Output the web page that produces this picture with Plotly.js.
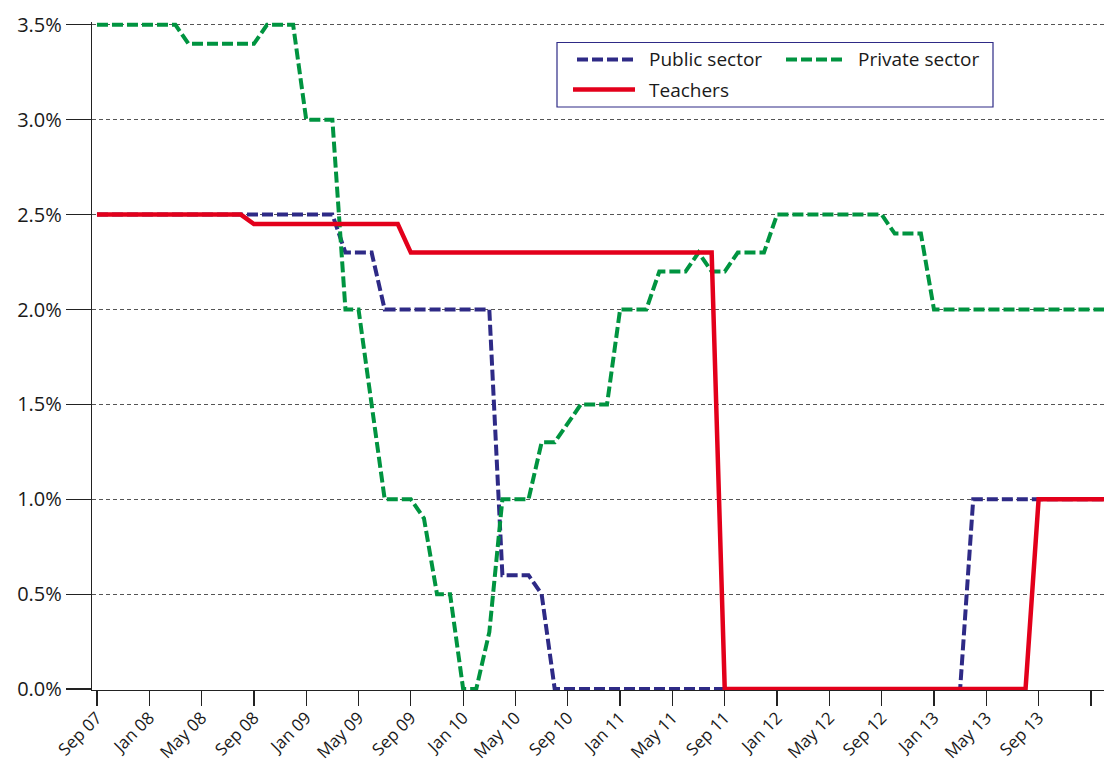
<!DOCTYPE html>
<html>
<head>
<meta charset="utf-8">
<script src="https://cdn.plot.ly/plotly-3.0.1.min.js"></script>
<style>
  html, body { margin: 0; padding: 0; background: #ffffff; }
  #chart { width: 1104px; height: 764px; }
</style>
</head>
<body>
<div id="chart"></div>
<script>
// Months (categories), Sep 2007 to Feb 2014
const months = [
  'Sep 07','Oct 07','Nov 07','Dec 07',
  'Jan 08','Feb 08','Mar 08','Apr 08','May 08','Jun 08','Jul 08','Aug 08','Sep 08','Oct 08','Nov 08','Dec 08',
  'Jan 09','Feb 09','Mar 09','Apr 09','May 09','Jun 09','Jul 09','Aug 09','Sep 09','Oct 09','Nov 09','Dec 09',
  'Jan 10','Feb 10','Mar 10','Apr 10','May 10','Jun 10','Jul 10','Aug 10','Sep 10','Oct 10','Nov 10','Dec 10',
  'Jan 11','Feb 11','Mar 11','Apr 11','May 11','Jun 11','Jul 11','Aug 11','Sep 11','Oct 11','Nov 11','Dec 11',
  'Jan 12','Feb 12','Mar 12','Apr 12','May 12','Jun 12','Jul 12','Aug 12','Sep 12','Oct 12','Nov 12','Dec 12',
  'Jan 13','Feb 13','Mar 13','Apr 13','May 13','Jun 13','Jul 13','Aug 13','Sep 13','Oct 13','Nov 13','Dec 13',
  'Jan 14','Feb 14'
];

// Pay growth, %
const publicSector = [
  2.5,2.5,2.5,2.5,2.5,2.5,2.5,2.5,2.5,2.5,2.5,2.5,2.5,2.5,2.5,2.5,2.5,2.5,2.5,
  2.3,2.3,2.3,
  2.0,2.0,2.0,2.0,2.0,2.0,2.0,2.0,2.0,
  0.6,0.6,0.6,
  0.5,
  0,0,0,0,0,0,0,0,0,0,0,0,0,0,0,0,0,0,0,0,0,0,0,0,0,0,0,0,0,0,0,0,
  1.0,1.0,1.0,1.0,1.0,1.0,1.0,1.0,1.0,1.0,1.0
];
const privateSector = [
  3.5,3.5,3.5,3.5,3.5,3.5,3.5,
  3.4,3.4,3.4,3.4,3.4,3.4,
  3.5,3.5,3.5,
  3.0,3.0,3.0,
  2.0,2.0,
  1.5,
  1.0,1.0,1.0,
  0.9,
  0.5,0.5,
  0.0,0.0,
  0.3,
  1.0,1.0,1.0,
  1.3,1.3,
  1.4,
  1.5,1.5,1.5,
  2.0,2.0,2.0,
  2.2,2.2,2.2,
  2.3,
  2.2,2.2,
  2.3,2.3,2.3,
  2.5,2.5,2.5,2.5,2.5,2.5,2.5,2.5,2.5,
  2.4,2.4,2.4,
  2.0,2.0,2.0,2.0,2.0,2.0,2.0,2.0,2.0,2.0,2.0,2.0,2.0,2.0
];
const teachers = [
  2.5,2.5,2.5,2.5,2.5,2.5,2.5,2.5,2.5,2.5,2.5,2.5,
  2.45,2.45,2.45,2.45,2.45,2.45,2.45,2.45,2.45,2.45,2.45,2.45,
  2.3,2.3,2.3,2.3,2.3,2.3,2.3,2.3,2.3,2.3,2.3,2.3,2.3,2.3,2.3,2.3,2.3,2.3,2.3,2.3,2.3,2.3,2.3,2.3,
  0,0,0,0,0,0,0,0,0,0,0,0,0,0,0,0,0,0,0,0,0,0,0,0,
  1.0,1.0,1.0,1.0,1.0,1.0
];

const seriesNames = ['Public sector', 'Private sector', 'Teachers'];

const xTickVals = ['Sep 07','Jan 08','May 08','Sep 08','Jan 09','May 09','Sep 09','Jan 10','May 10',
  'Sep 10','Jan 11','May 11','Sep 11','Jan 12','May 12','Sep 12','Jan 13','May 13','Sep 13','Jan 14'];
const xTickText = ['Sep 07','Jan 08','May 08','Sep 08','Jan 09','May 09','Sep 09','Jan 10','May 10',
  'Sep 10','Jan 11','May 11','Sep 11','Jan 12','May 12','Sep 12','Jan 13','May 13','Sep 13',''];
const yTickVals = [0, 0.5, 1.0, 1.5, 2.0, 2.5, 3.0, 3.5];
const yTickText = ['0.0%','0.5%','1.0%','1.5%','2.0%','2.5%','3.0%','3.5%'];

// styles
const NAVY = '#2e2a86';
const GREEN = '#009440';
const RED = '#e3001b';
const INK = '#1a1a1a';

const traces = [
  { x: months, y: publicSector, name: seriesNames[0], type: 'scatter', mode: 'lines',
    line: { color: NAVY, width: 4, dash: '11px,4px' }, hoverinfo: 'x+y+name' },
  { x: months, y: privateSector, name: seriesNames[1], type: 'scatter', mode: 'lines',
    line: { color: GREEN, width: 4, dash: '11px,4px' }, hoverinfo: 'x+y+name' },
  { x: months, y: teachers, name: seriesNames[2], type: 'scatter', mode: 'lines',
    line: { color: RED, width: 4.5 }, hoverinfo: 'x+y+name' }
];

// plot area geometry (pixels)
const L = 92, R = 0, T = 22, B = 74, W = 1104, H = 764;
const PW = W - L - R, PH = H - T - B;
const px = v => (v - L) / PW;
const py = v => (T + PH - v) / PH;

// custom legend (box + symbols + labels)
const shapes = [
  { type: 'rect', xref: 'paper', yref: 'paper', x0: px(557), x1: px(993), y0: py(42.5), y1: py(107),
    line: { color: NAVY, width: 1.2 }, fillcolor: '#ffffff', layer: 'above' },
  { type: 'line', xref: 'paper', yref: 'paper', x0: px(577), x1: px(635), y0: py(59.5), y1: py(59.5),
    line: { color: NAVY, width: 4, dash: '11px,4px' }, layer: 'above' },
  { type: 'line', xref: 'paper', yref: 'paper', x0: px(786), x1: px(845), y0: py(59.5), y1: py(59.5),
    line: { color: GREEN, width: 4, dash: '11px,4px' }, layer: 'above' },
  { type: 'line', xref: 'paper', yref: 'paper', x0: px(573), x1: px(635), y0: py(89.5), y1: py(89.5),
    line: { color: RED, width: 4.5 }, layer: 'above' }
];
const annotations = [
  { xref: 'paper', yref: 'paper', x: px(647), y: py(59.5), text: seriesNames[0], showarrow: false,
    xanchor: 'left', yanchor: 'middle', font: { size: 19, color: INK } },
  { xref: 'paper', yref: 'paper', x: px(856), y: py(59.5), text: seriesNames[1], showarrow: false,
    xanchor: 'left', yanchor: 'middle', font: { size: 19, color: INK } },
  { xref: 'paper', yref: 'paper', x: px(647), y: py(89.5), text: seriesNames[2], showarrow: false,
    xanchor: 'left', yanchor: 'middle', font: { size: 19, color: INK } }
];

const layout = {
  width: W, height: H,
  margin: { l: L, r: R, t: T, b: B, pad: 0 },
  paper_bgcolor: '#ffffff', plot_bgcolor: '#ffffff',
  font: { family: '"Open Sans", "Noto Sans", sans-serif', size: 20, color: INK },
  showlegend: false,
  xaxis: {
    type: 'category', range: [-0.38, 77],
    tickmode: 'array', tickvals: xTickVals, ticktext: xTickText,
    tickangle: -45, ticks: 'outside', ticklen: 15, tickwidth: 1.2, tickcolor: '#222',
    ticklabelstandoff: -5,
    showline: true, linecolor: '#222', linewidth: 1.2,
    showgrid: false, zeroline: false,
    tickfont: { size: 17, color: INK }, fixedrange: true
  },
  yaxis: {
    range: [-0.005, 3.515],
    tickmode: 'array', tickvals: yTickVals, ticktext: yTickText,
    ticks: 'outside', ticklen: 25, tickwidth: 1.2, tickcolor: '#222',
    showline: true, linecolor: '#222', linewidth: 1.2,
    showgrid: true, gridcolor: '#555555', gridwidth: 1, griddash: '4px,3px',
    zeroline: false,
    tickfont: { size: 20, color: INK }, fixedrange: true
  },
  shapes: shapes,
  annotations: annotations
};

Plotly.newPlot('chart', traces, layout, { displayModeBar: false, staticPlot: true });
</script>
</body>
</html>
